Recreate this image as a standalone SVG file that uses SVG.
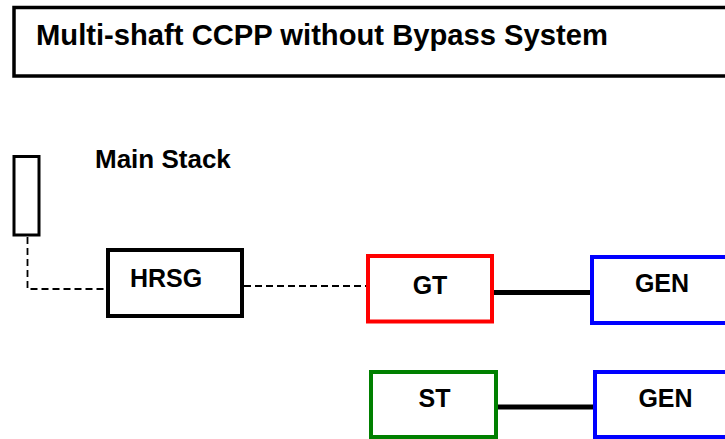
<svg xmlns="http://www.w3.org/2000/svg" width="725" height="439" viewBox="0 0 725 439">
<style>
text{font-family:"Liberation Sans",Arial,sans-serif;font-weight:bold;fill:#000}
.box{fill:#fff;stroke-width:4}
.dash{fill:none;stroke:#000;stroke-width:1.8;stroke-dasharray:7 4}
.shaft{fill:none;stroke:#000;stroke-width:5}
.lbl{font-size:25px}
</style>
<rect width="725" height="439" fill="#fff"/>
<g id="title">
<rect x="14" y="7.5" width="740" height="68.5" fill="#fff" stroke="#000" stroke-width="3.5"/>
<text x="36" y="45" font-size="29.2">Multi-shaft CCPP without Bypass System</text>
</g>
<g id="connectors">
<polyline class="dash" points="27.5,237 27.5,289 106,289"/>
<line class="dash" x1="244" y1="286" x2="366" y2="286"/>
<line class="shaft" x1="494" y1="292.5" x2="590" y2="292.5"/>
<line class="shaft" x1="498" y1="407" x2="593" y2="407"/>
</g>
<g id="main-stack">
<rect x="14" y="156.5" width="25" height="78.5" fill="#fff" stroke="#000" stroke-width="3"/>
<text x="95" y="168" font-size="26">Main Stack</text>
</g>
<g id="hrsg">
<rect class="box" x="108" y="250" width="134" height="66" stroke="#000"/>
<text class="lbl" x="130" y="287">HRSG</text>
</g>
<g id="gt">
<rect class="box" x="368" y="256" width="124" height="65.5" stroke="#ff0000"/>
<text class="lbl" x="430" y="293.5" text-anchor="middle">GT</text>
</g>
<g id="gen1">
<rect class="box" x="592" y="257" width="150" height="66" stroke="#0000ff"/>
<text class="lbl" x="662" y="292" text-anchor="middle">GEN</text>
</g>
<g id="st">
<rect class="box" x="371" y="372" width="125" height="65" stroke="#008000"/>
<text class="lbl" x="434.5" y="407" text-anchor="middle">ST</text>
</g>
<g id="gen2">
<rect class="box" x="595" y="372" width="150" height="65" stroke="#0000ff"/>
<text class="lbl" x="665.5" y="407" text-anchor="middle">GEN</text>
</g>
</svg>
